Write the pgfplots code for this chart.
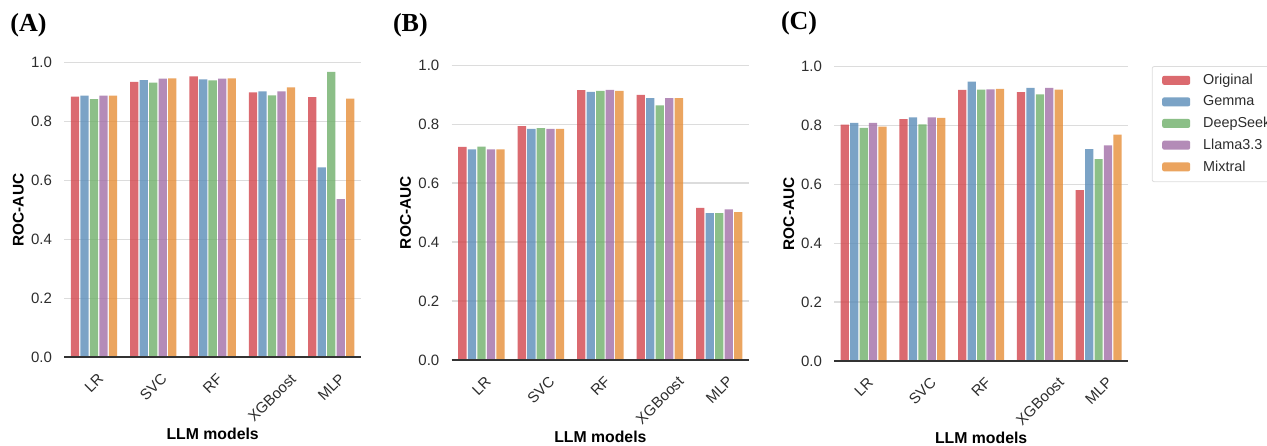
\documentclass[border=0pt]{standalone}
\usepackage{fontspec}
\setmainfont{Liberation Sans}
\newfontfamily\panelfont{Liberation Serif}
\usepackage{graphicx}
\usepackage{pgfplots}
\usepackage{pgfplotstable}
\pgfplotsset{compat=1.18}

\definecolor{cR}{RGB}{210,69,76}
\definecolor{cB}{RGB}{90,140,184}
\definecolor{cG}{RGB}{111,175,106}
\definecolor{cP}{RGB}{161,110,166}
\definecolor{cO}{RGB}{230,142,56}
\definecolor{gridc}{RGB}{220,220,220}
\definecolor{txtc}{RGB}{45,45,45}

\tikzset{axisbottomline/.style={line width=1pt, draw=black!80}}

\pgfplotstableread{
x orig gemma deep llama mix
0 0.885 0.888 0.876 0.888 0.888
1 0.935 0.941 0.932 0.946 0.947
2 0.954 0.943 0.940 0.946 0.947
3 0.899 0.903 0.889 0.903 0.916
4 0.883 0.645 0.969 0.537 0.878
}\dataA

\pgfplotstableread{
x orig gemma deep llama mix
0 0.723 0.715 0.724 0.715 0.715
1 0.794 0.784 0.787 0.784 0.784
2 0.916 0.910 0.913 0.917 0.913
3 0.900 0.889 0.864 0.889 0.889
4 0.516 0.498 0.498 0.511 0.502
}\dataB

\pgfplotstableread{
x orig gemma deep llama mix
0 0.803 0.809 0.792 0.809 0.796
1 0.822 0.828 0.804 0.828 0.826
2 0.921 0.949 0.922 0.923 0.925
3 0.914 0.928 0.906 0.928 0.922
4 0.581 0.720 0.686 0.733 0.769
}\dataC

\pgfplotsset{
  panel/.style={
    scale only axis,
    anchor=south west,
    clip=false,
    ybar=0.6pt,
    bar width=0.14,
    xmin=-0.5, xmax=4.5,
    ymin=0, ymax=1,
    axis x line=bottom,
    axis y line=left,
    y axis line style={draw=none},
    x axis line style={draw=none},
    major tick length=0pt,
    ymajorgrids,
    grid style={gridc, line width=0.7pt},
    ytick={0,0.2,0.4,0.6,0.8,1.0},
    /pgf/number format/fixed,
    /pgf/number format/fixed zerofill,
    /pgf/number format/precision=1,
    /pgf/number format/assume math mode=true,
    yticklabel style={anchor=east, inner sep=0pt, xshift=-6pt, text=txtc, font=\fontsize{7.5}{9}\selectfont},
    xtick={0,1,2,3,4},
    xticklabels={\rotatebox{45}{LR},\rotatebox{45}{SVC},\rotatebox{45}{RF},\rotatebox{45}{XGBoost},\rotatebox{45}{MLP}},
    xticklabel style={anchor=north, inner sep=0pt, yshift=-7.5pt, text=txtc, font=\fontsize{7.5}{9}\selectfont},
    xlabel={LLM models},
    ylabel={ROC-AUC},
    xlabel style={at={(axis description cs:0.5,-0.24)}, anchor=north, inner sep=0pt, font=\bfseries\fontsize{7.9}{9}\selectfont},
    ylabel style={at={(axis description cs:-0.155,0.5)}, anchor=center, font=\bfseries\fontsize{7.7}{9}\selectfont},
    legend image code/.code={\path[#1, draw=none] (0pt,-2pt) rectangle (14pt,2.5pt);},
  },
  sR/.style={fill=cR, draw=none, fill opacity=0.8},
  sB/.style={fill=cB, draw=none, fill opacity=0.8},
  sG/.style={fill=cG, draw=none, fill opacity=0.8},
  sP/.style={fill=cP, draw=none, fill opacity=0.8},
  sO/.style={fill=cO, draw=none, fill opacity=0.8},
}

\begin{document}
\begin{tikzpicture}
\useasboundingbox (0,0) rectangle (633.5pt,222.5pt);

\node[anchor=west, inner sep=0pt] at (5pt,210pt) {\panelfont\bfseries\fontsize{13}{15}\selectfont (A)};
\node[anchor=west, inner sep=0pt] at (196.3pt,210pt) {\panelfont\bfseries\fontsize{13}{15}\selectfont (B)};
\node[anchor=west, inner sep=0pt] at (390.3pt,211pt) {\panelfont\bfseries\fontsize{13}{15}\selectfont (C)};

\begin{axis}[panel, at={(32.15pt,43.85pt)}, width=148.35pt, height=147.3pt]
\addplot[sR] table[x=x,y=orig] {\dataA};
\addplot[sB] table[x=x,y=gemma] {\dataA};
\addplot[sG] table[x=x,y=deep] {\dataA};
\addplot[sP] table[x=x,y=llama] {\dataA};
\addplot[sO] table[x=x,y=mix] {\dataA};
\draw[axisbottomline] (axis description cs:0,0) -- (axis description cs:1,0);
\end{axis}

\begin{axis}[panel, at={(225.85pt,42.5pt)}, width=148.65pt, height=147.35pt]
\addplot[sR] table[x=x,y=orig] {\dataB};
\addplot[sB] table[x=x,y=gemma] {\dataB};
\addplot[sG] table[x=x,y=deep] {\dataB};
\addplot[sP] table[x=x,y=llama] {\dataB};
\addplot[sO] table[x=x,y=mix] {\dataB};
\draw[axisbottomline] (axis description cs:0,0) -- (axis description cs:1,0);
\end{axis}

\begin{axis}[panel, at={(417.15pt,42pt)}, width=146.85pt, height=147.15pt,
  legend style={at={(axis description cs:1.081,1.002)}, anchor=north west,
    draw=gridc, rounded corners=1pt, fill=white,
    font=\fontsize{7.2}{8.5}\selectfont, text=txtc,
    row sep=1.55pt, inner xsep=5pt, inner ysep=2.5pt,
    nodes={inner ysep=1.3pt, inner xsep=1.5pt},
    /tikz/every odd column/.append style={column sep=5pt}},
  legend cell align=left]
\addplot[sR] table[x=x,y=orig] {\dataC};
\addplot[sB] table[x=x,y=gemma] {\dataC};
\addplot[sG] table[x=x,y=deep] {\dataC};
\addplot[sP] table[x=x,y=llama] {\dataC};
\addplot[sO] table[x=x,y=mix] {\dataC};
\draw[axisbottomline] (axis description cs:0,0) -- (axis description cs:1,0);
\legend{Original,Gemma,DeepSeek,Llama3.3,Mixtral}
\end{axis}
\end{tikzpicture}
\end{document}
